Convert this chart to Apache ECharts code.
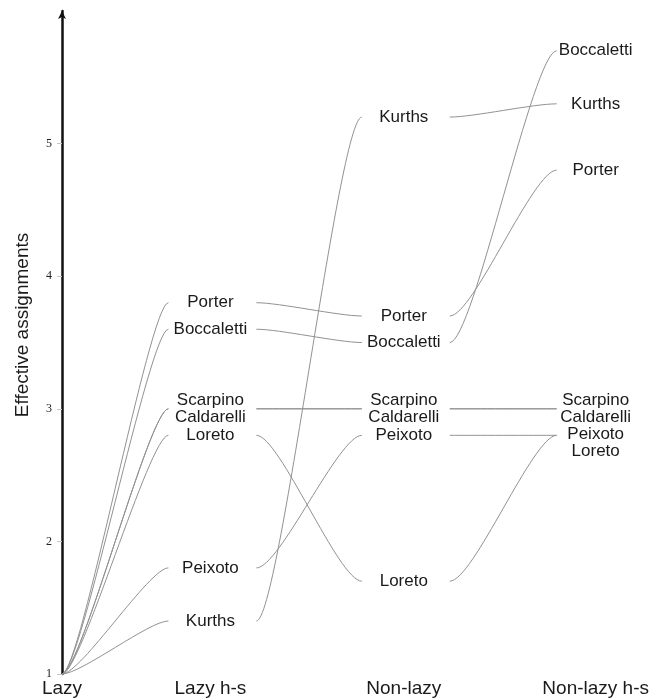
<!DOCTYPE html>
<html>
<head>
<meta charset="utf-8">
<script src="https://cdn.jsdelivr.net/npm/echarts@6/dist/echarts.min.js"></script>
<style>
  html, body { margin: 0; padding: 0; background: #ffffff; }
  #chart { width: 652px; height: 699px; }
</style>
</head>
<body>
<div id="chart"></div>
<script>
// Effective assignments per author under four strategies
const methods = ['Lazy', 'Lazy h-s', 'Non-lazy', 'Non-lazy h-s'];
const authors = ['Porter', 'Boccaletti', 'Scarpino', 'Caldarelli', 'Peixoto', 'Loreto', 'Kurths'];
const lazy      = [1, 1, 1, 1, 1, 1, 1];
const lazyHS    = [3.8, 3.6, 3.0, 3.0, 1.8, 2.8, 1.4];
const nonLazy   = [3.7, 3.5, 3.0, 3.0, 2.8, 1.7, 5.2];
const nonLazyHS = [4.8, 5.7, 3.0, 3.0, 2.8, 2.8, 5.3];
const yTicks = [1, 2, 3, 4, 5];

const columns = [lazy, lazyHS, nonLazy, nonLazyHS];

// Layout: horizontal placement of each strategy column (x-axis units = px)
const colX = [0, 148.5, 342, 534];
// Free space left/right of each column's labels where connectors stop
const gapLeft  = [0, 42, 42, 39];
const gapRight = [0, 46, 46, 0];
// Horizontal handle length of the connector curves, as a share of their width
const handle = [0.18, 0.22, 0.22];
const labelFont = 'Liberation Sans, Arial, Helvetica, sans-serif';
const labelSize = 17;
const labelLine = 17;

// Connector segments: [xFrom, vFrom, xTo, vTo, colFrom, colTo]
const segments = [];
authors.forEach(function (a, i) {
  for (let c = 0; c < columns.length - 1; c++) {
    segments.push([colX[c], columns[c][i], colX[c + 1], columns[c + 1][i], c, c + 1]);
  }
});

// Label groups: authors sharing a value in a column are stacked together
const groups = [];
for (let c = 1; c < columns.length; c++) {
  const byVal = {};
  const order = [];
  authors.forEach(function (a, i) {
    const v = columns[c][i];
    if (!(v in byVal)) { byVal[v] = []; order.push(v); }
    byVal[v].push(a);
  });
  order.forEach(function (v) {
    groups.push({ col: c, value: v, names: byVal[v] });
  });
}
const labelData = groups.map(function (g, k) { return [colX[g.col], g.value, k]; });

// Push stacked labels down when they would collide with the group above
function labelOffsets(api) {
  const off = new Array(groups.length).fill(0);
  for (let c = 1; c < columns.length; c++) {
    const idx = groups.map(function (g, k) { return k; }).filter(function (k) { return groups[k].col === c; });
    const items = idx.map(function (k) {
      const y = api.coord([colX[c], groups[k].value])[1];
      const h = groups[k].names.length * labelLine;
      return { k: k, y: y, h: h };
    }).sort(function (a, b) { return a.y - b.y; });
    let bottom = -Infinity;
    items.forEach(function (it) {
      let top = it.y - it.h / 2;
      if (top < bottom) {
        off[it.k] = bottom - top;
        top = bottom;
      }
      bottom = top + it.h;
    });
  }
  return off;
}

const chart = echarts.init(document.getElementById('chart'), null, { renderer: 'canvas' });

chart.setOption({
  animation: false,
  backgroundColor: '#ffffff',
  grid: { left: 62, right: 56, top: 11, bottom: 25 },
  xAxis: {
    type: 'value',
    min: 0,
    max: colX[colX.length - 1],
    axisLine: { show: false },
    axisTick: { show: false },
    splitLine: { show: false },
    axisLabel: {
      customValues: colX,
      formatter: function (v) { return methods[colX.indexOf(v)] || ''; },
      margin: 5,
      fontSize: 19,
      fontFamily: labelFont,
      color: '#1a1a1a'
    }
  },
  yAxis: {
    type: 'value',
    min: 1,
    max: 6,
    interval: 1,
    name: 'Effective assignments',
    nameLocation: 'middle',
    nameGap: 30,
    nameRotate: 90,
    nameTextStyle: {
      fontSize: 19,
      fontFamily: labelFont,
      color: '#1a1a1a',
      padding: [0, 0, 0, 35]
    },
    axisLine: {
      show: true,
      symbol: ['none', 'arrow'],
      symbolSize: [6, 8],
      lineStyle: { color: '#111111', width: 2.5 }
    },
    axisTick: {
      show: true,
      customValues: yTicks,
      inside: false,
      length: 5,
      lineStyle: { color: '#c8c8c8', width: 1 }
    },
    axisLabel: {
      customValues: yTicks,
      margin: 10,
      fontSize: 12,
      fontFamily: 'Liberation Serif, Times New Roman, serif',
      color: '#222222'
    },
    splitLine: { show: false }
  },
  series: [
    {
      type: 'custom',
      coordinateSystem: 'cartesian2d',
      clip: false,
      silent: true,
      encode: { x: [0, 2], y: [1, 3] },
      data: segments,
      renderItem: function (params, api) {
        const p0 = api.coord([api.value(0), api.value(1)]);
        const p1 = api.coord([api.value(2), api.value(3)]);
        const c0 = api.value(4), c1 = api.value(5);
        const x0 = p0[0] + gapRight[c0];
        const x1 = p1[0] - gapLeft[c1];
        const dx = x1 - x0;
        const k = handle[c0];
        return {
          type: 'bezierCurve',
          shape: {
            x1: x0, y1: p0[1],
            cpx1: x0 + dx * k, cpy1: p0[1],
            cpx2: x1 - dx * k, cpy2: p1[1],
            x2: x1, y2: p1[1]
          },
          style: { stroke: '#929292', lineWidth: 1, fill: null }
        };
      }
    },
    {
      type: 'custom',
      coordinateSystem: 'cartesian2d',
      clip: false,
      silent: true,
      encode: { x: 0, y: 1 },
      data: labelData,
      renderItem: function (params, api) {
        const k = api.value(2);
        const g = groups[k];
        const p = api.coord([api.value(0), api.value(1)]);
        const off = labelOffsets(api)[k];
        return {
          type: 'text',
          style: {
            text: g.names.join('\n'),
            x: p[0],
            y: p[1] + off,
            align: 'center',
            verticalAlign: 'middle',
            fontSize: labelSize,
            fontFamily: labelFont,
            lineHeight: labelLine,
            fill: '#1a1a1a'
          }
        };
      }
    }
  ]
});
</script>
</body>
</html>
